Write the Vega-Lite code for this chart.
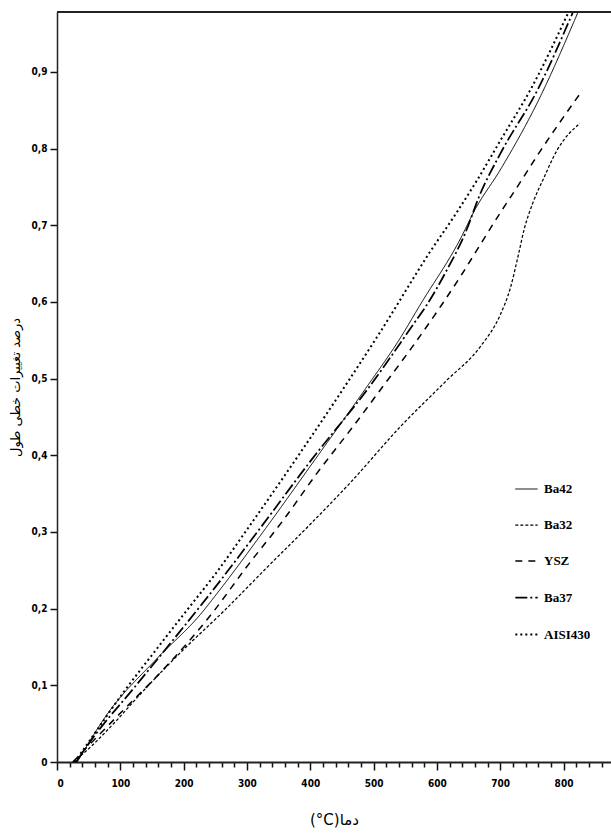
{
  "$schema": "https://vega.github.io/schema/vega-lite/v6.json",
  "width": 554,
  "height": 750,
  "autosize": {"type": "none"},
  "padding": {"left": 57, "top": 12, "right": 0, "bottom": 75},
  "background": "white",
  "config": {"view": {"stroke": null}},
  "data": {"values": [
    {"s": "AISI430", "t": 28, "v": 0},
    {"s": "AISI430", "t": 50, "v": 0.026},
    {"s": "AISI430", "t": 106, "v": 0.092},
    {"s": "AISI430", "t": 158, "v": 0.148},
    {"s": "AISI430", "t": 210, "v": 0.203},
    {"s": "AISI430", "t": 250, "v": 0.245},
    {"s": "AISI430", "t": 300, "v": 0.303},
    {"s": "AISI430", "t": 384, "v": 0.403},
    {"s": "AISI430", "t": 458, "v": 0.494},
    {"s": "AISI430", "t": 510, "v": 0.56},
    {"s": "AISI430", "t": 589, "v": 0.665},
    {"s": "AISI430", "t": 630, "v": 0.715},
    {"s": "AISI430", "t": 663, "v": 0.758},
    {"s": "AISI430", "t": 700, "v": 0.81},
    {"s": "AISI430", "t": 750, "v": 0.88},
    {"s": "AISI430", "t": 808, "v": 0.978},
    {"s": "Ba37", "t": 30, "v": 0},
    {"s": "Ba37", "t": 60, "v": 0.035},
    {"s": "Ba37", "t": 122, "v": 0.097},
    {"s": "Ba37", "t": 194, "v": 0.17},
    {"s": "Ba37", "t": 250, "v": 0.228},
    {"s": "Ba37", "t": 321, "v": 0.305},
    {"s": "Ba37", "t": 400, "v": 0.392},
    {"s": "Ba37", "t": 494, "v": 0.49},
    {"s": "Ba37", "t": 563, "v": 0.571},
    {"s": "Ba37", "t": 584, "v": 0.596},
    {"s": "Ba37", "t": 616, "v": 0.642},
    {"s": "Ba37", "t": 645, "v": 0.69},
    {"s": "Ba37", "t": 668, "v": 0.74},
    {"s": "Ba37", "t": 700, "v": 0.793},
    {"s": "Ba37", "t": 760, "v": 0.878},
    {"s": "Ba37", "t": 815, "v": 0.978},
    {"s": "Ba42", "t": 32, "v": 0},
    {"s": "Ba42", "t": 79, "v": 0.062},
    {"s": "Ba42", "t": 158, "v": 0.135},
    {"s": "Ba42", "t": 226, "v": 0.192},
    {"s": "Ba42", "t": 253, "v": 0.22},
    {"s": "Ba42", "t": 321, "v": 0.295},
    {"s": "Ba42", "t": 415, "v": 0.403},
    {"s": "Ba42", "t": 490, "v": 0.49},
    {"s": "Ba42", "t": 540, "v": 0.55},
    {"s": "Ba42", "t": 575, "v": 0.598},
    {"s": "Ba42", "t": 637, "v": 0.682},
    {"s": "Ba42", "t": 660, "v": 0.72},
    {"s": "Ba42", "t": 700, "v": 0.772},
    {"s": "Ba42", "t": 760, "v": 0.862},
    {"s": "Ba42", "t": 823, "v": 0.978},
    {"s": "YSZ", "t": 25, "v": 0},
    {"s": "YSZ", "t": 60, "v": 0.03},
    {"s": "YSZ", "t": 110, "v": 0.072},
    {"s": "YSZ", "t": 158, "v": 0.112},
    {"s": "YSZ", "t": 246, "v": 0.195},
    {"s": "YSZ", "t": 300, "v": 0.255},
    {"s": "YSZ", "t": 357, "v": 0.315},
    {"s": "YSZ", "t": 411, "v": 0.377},
    {"s": "YSZ", "t": 470, "v": 0.44},
    {"s": "YSZ", "t": 515, "v": 0.49},
    {"s": "YSZ", "t": 560, "v": 0.54},
    {"s": "YSZ", "t": 605, "v": 0.593},
    {"s": "YSZ", "t": 641, "v": 0.638},
    {"s": "YSZ", "t": 668, "v": 0.674},
    {"s": "YSZ", "t": 700, "v": 0.716},
    {"s": "YSZ", "t": 727, "v": 0.75},
    {"s": "YSZ", "t": 758, "v": 0.79},
    {"s": "YSZ", "t": 830, "v": 0.876},
    {"s": "Ba32", "t": 25, "v": 0},
    {"s": "Ba32", "t": 40, "v": 0.01},
    {"s": "Ba32", "t": 95, "v": 0.055},
    {"s": "Ba32", "t": 131, "v": 0.088},
    {"s": "Ba32", "t": 199, "v": 0.146},
    {"s": "Ba32", "t": 265, "v": 0.198},
    {"s": "Ba32", "t": 332, "v": 0.254},
    {"s": "Ba32", "t": 400, "v": 0.31},
    {"s": "Ba32", "t": 463, "v": 0.364},
    {"s": "Ba32", "t": 542, "v": 0.437},
    {"s": "Ba32", "t": 616, "v": 0.498},
    {"s": "Ba32", "t": 668, "v": 0.541},
    {"s": "Ba32", "t": 700, "v": 0.583},
    {"s": "Ba32", "t": 716, "v": 0.618},
    {"s": "Ba32", "t": 727, "v": 0.655},
    {"s": "Ba32", "t": 738, "v": 0.695},
    {"s": "Ba32", "t": 752, "v": 0.73},
    {"s": "Ba32", "t": 768, "v": 0.76},
    {"s": "Ba32", "t": 790, "v": 0.798},
    {"s": "Ba32", "t": 826, "v": 0.833}
  ]},
  "layer": [
    {
      "mark": {"type": "line", "color": "black", "interpolate": "monotone"},
      "encoding": {
        "x": {"field": "t", "type": "quantitative",
          "scale": {"domain": [0, 875], "nice": false},
          "axis": {"values": [0, 20, 40, 60, 80, 100, 120, 140, 160, 180, 200, 220, 240, 260, 280, 300, 320, 340, 360, 380, 400, 420, 440, 460, 480, 500, 520, 540, 560, 580, 600, 620, 640, 660, 680, 700, 720, 740, 760, 780, 800, 820, 840, 860],
            "labelExpr": "datum.value % 100 === 0 ? datum.label : ''",
            "grid": false, "ticks": true,
            "domainColor": "#222", "domainWidth": 2, "tickColor": "#111",
            "tickWidth": 1.5,
            "tickSize": {"condition": {"test": "datum.value % 100 === 0", "value": 8}, "value": 5},
            "labelFont": "DejaVu Sans Condensed", "labelFontWeight": "bold", "labelFontSize": 10, "labelColor": "black", "labelPadding": 8,
            "title": "(°C)دما", "titleFont": "DejaVu Sans", "titleFontWeight": "normal", "titleFontSize": 15, "titleColor": "black", "titlePadding": 24}},
        "y": {"field": "v", "type": "quantitative",
          "scale": {"domain": [0, 0.978], "nice": false},
          "axis": {"values": [0, 0.025, 0.05, 0.075, 0.1, 0.125, 0.15, 0.175, 0.2, 0.225, 0.25, 0.275, 0.3, 0.325, 0.35, 0.375, 0.4, 0.425, 0.45, 0.475, 0.5, 0.525, 0.55, 0.575, 0.6, 0.625, 0.65, 0.675, 0.7, 0.725, 0.75, 0.775, 0.8, 0.825, 0.85, 0.875, 0.9, 0.925, 0.95, 0.975],
            "grid": false, "ticks": true,
            "labelExpr": "round(datum.value * 1000) % 100 !== 0 ? '' : (datum.value == 0 ? '0' : replace(format(datum.value, '.1f'), '.', ','))",
            "domainColor": "#222", "domainWidth": 1.5, "tickColor": "#111",
            "tickWidth": 1.5,
            "tickSize": {"condition": {"test": "round(datum.value * 1000) % 100 === 0", "value": 7}, "value": 4},
            "labelFont": "DejaVu Sans Condensed", "labelFontWeight": "bold", "labelFontSize": 10, "labelColor": "black", "labelPadding": 3,
            "title": "درصد تغییرات خطی طول", "titleFont": "DejaVu Sans", "titleFontWeight": "normal", "titleFontSize": 13, "titleColor": "black", "titlePadding": 9}},
        "detail": {"field": "s"},
        "strokeDash": {"field": "s", "type": "nominal",
          "scale": {"domain": ["Ba42", "Ba32", "YSZ", "Ba37", "AISI430"],
            "range": [[1, 0], [3, 2], [7, 6], [12, 3, 2, 3], [2, 3]]},
          "legend": {"title": null, "orient": "none", "legendX": 457, "legendY": 465,
            "symbolType": "stroke", "symbolSize": 500, "symbolStrokeColor": "black", "symbolStrokeWidth": 2,
            "rowPadding": 17, "labelFont": "Liberation Serif", "labelFontWeight": "bold", "labelFontSize": 13, "labelColor": "black", "labelOffset": 5}},
        "strokeWidth": {"field": "s", "type": "nominal",
          "scale": {"domain": ["Ba42", "Ba32", "YSZ", "Ba37", "AISI430"], "range": [1, 2, 2.2, 2.2, 2.5]},
          "legend": null}
      }
    },
    {
      "mark": {"type": "rule", "color": "#222", "strokeWidth": 2},
      "encoding": {"y": {"datum": 0.978}}
    }
  ]
}
